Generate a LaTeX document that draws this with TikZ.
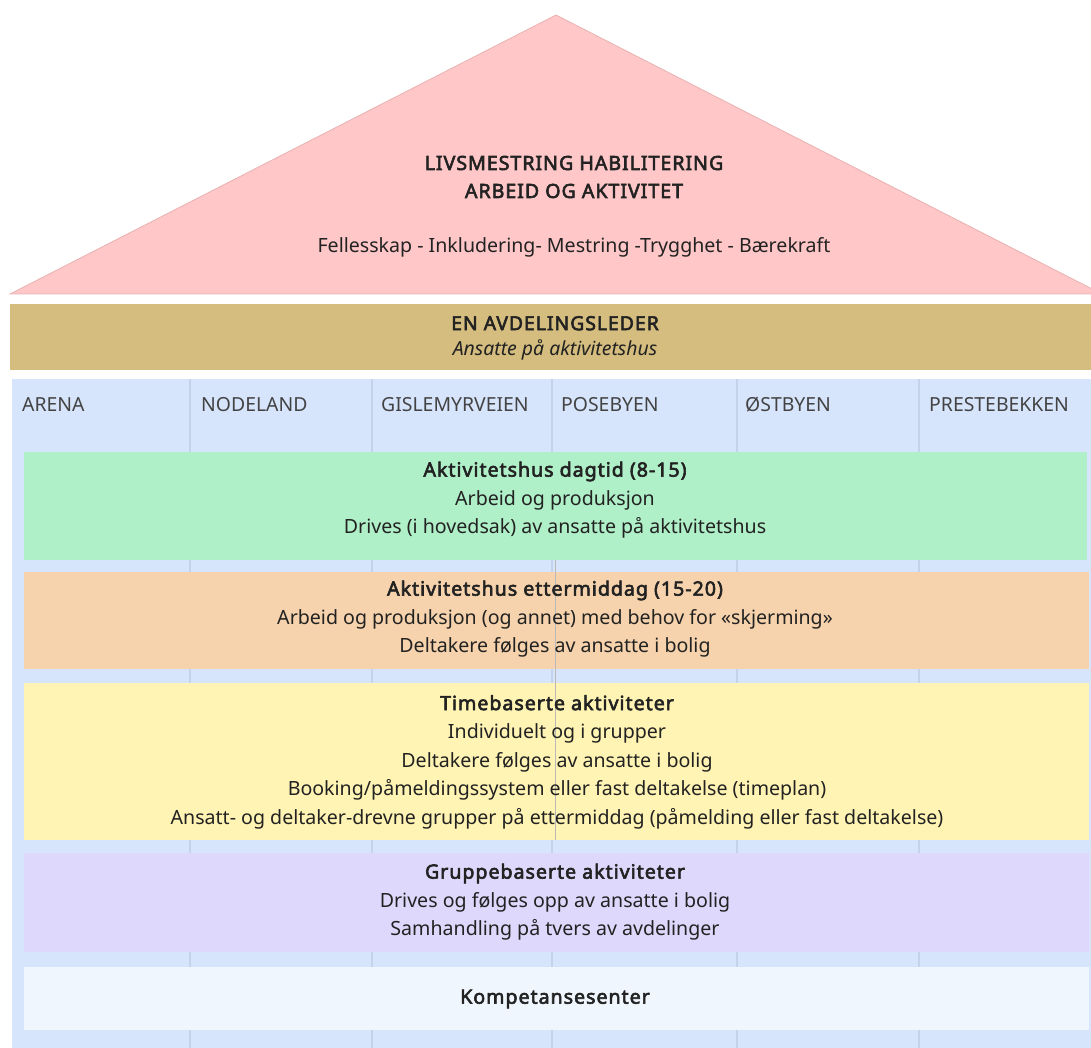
\documentclass[tikz,border=0pt]{standalone}
\usepackage{fontspec}
\setmainfont{Noto Sans}[AutoFakeBold=3]
\newcommand{\hb}[1]{{\bfseries\addfontfeatures{LetterSpace=5}#1}}
\definecolor{roof}{RGB}{255,199,199}
\definecolor{roofedge}{RGB}{232,178,178}
\definecolor{band}{RGB}{213,189,127}
\definecolor{bg}{RGB}{215,229,252}
\definecolor{sep}{RGB}{196,210,236}
\definecolor{green}{RGB}{176,240,200}
\definecolor{orange}{RGB}{246,211,172}
\definecolor{yellow}{RGB}{255,244,180}
\definecolor{purple}{RGB}{222,217,252}
\definecolor{pale}{RGB}{240,246,254}
\definecolor{txt}{RGB}{34,34,34}
\tikzset{
  boxtext/.style={text=txt, align=center, inner sep=0pt, font=\fontsize{19.6}{28.5}\selectfont},
  bandtext/.style={text=txt, align=center, inner sep=0pt, font=\fontsize{19.4}{25}\selectfont},
  rooftext/.style={text=txt, align=center, inner sep=0pt, font=\fontsize{19.6}{28}\selectfont},
  collabel/.style={text=txt!85, anchor=west, inner sep=0pt, font=\fontsize{19.4}{22}\selectfont},
  colsep/.style={draw=sep, line width=1.5pt},
}
\begin{document}
\begin{tikzpicture}[x=1pt,y=-1pt]
\useasboundingbox (0,0) rectangle (1091,1048);
\begin{scope}
\clip (0,0) rectangle (1091,1048);
% roof
\path[fill=roof, draw=roofedge, line width=0.8pt] (10,294) -- (556,15) -- (1102,294) -- cycle;
% band
\path[fill=band] (10,304) rectangle (1091,370);
% blue background
\path[fill=bg] (12,379) rectangle (1091,1048);
% column separators
\foreach \x in {190,372,552,737,919} \draw[colsep] (\x,379) -- (\x,1048);
% boxes
\path[fill=green] (24,452) rectangle (1087,560);
\path[fill=orange] (24,572) rectangle (1089,669);
\path[fill=yellow] (24,683) rectangle (1089,840);
\path[fill=purple] (24,853) rectangle (1089,952);
\path[fill=pale] (24,967) rectangle (1089,1030);
\draw[gray!55, line width=0.7pt] (555,560) -- (555,840);
\end{scope}
% roof text
\node[rooftext] (title) at (574,177) {\hb{LIVSMESTRING HABILITERING}\\\hb{ARBEID OG AKTIVITET}};
\node[rooftext] (values) at (574,247) {Fellesskap - Inkludering- Mestring -Trygghet - Bærekraft};
% band text
\node[bandtext] (leader) at (555,338) {\hb{EN AVDELINGSLEDER}\\\itshape Ansatte på aktivitetshus};
% column labels
\node[collabel] (c1) at (22,405) {ARENA};
\node[collabel] (c2) at (201,405) {NODELAND};
\node[collabel] (c3) at (381,405) {GISLEMYRVEIEN};
\node[collabel] (c4) at (561,405) {POSEBYEN};
\node[collabel] (c5) at (745,405) {ØSTBYEN};
\node[collabel] (c6) at (929,405) {PRESTEBEKKEN};
% box texts
\node[boxtext] (t1) at (555,500) {\hb{Aktivitetshus dagtid (8-15)}\\Arbeid og produksjon\\Drives (i hovedsak) av ansatte på aktivitetshus};
\node[boxtext] (t2) at (555,619) {\hb{Aktivitetshus ettermiddag (15-20)}\\Arbeid og produksjon (og annet) med behov for «skjerming»\\Deltakere følges av ansatte i bolig};
\node[boxtext] (t3) at (557,762) {\hb{Timebaserte aktiviteter}\\Individuelt og i grupper\\Deltakere følges av ansatte i bolig\\Booking/påmeldingssystem eller fast deltakelse (timeplan)\\Ansatt- og deltaker-drevne grupper på ettermiddag (påmelding eller fast deltakelse)};
\node[boxtext] (t4) at (555,902) {\hb{Gruppebaserte aktiviteter}\\Drives og følges opp av ansatte i bolig\\Samhandling på tvers av avdelinger};
\node[boxtext] (t5) at (555,999) {\hb{Kompetansesenter}};
\end{tikzpicture}
\end{document}
